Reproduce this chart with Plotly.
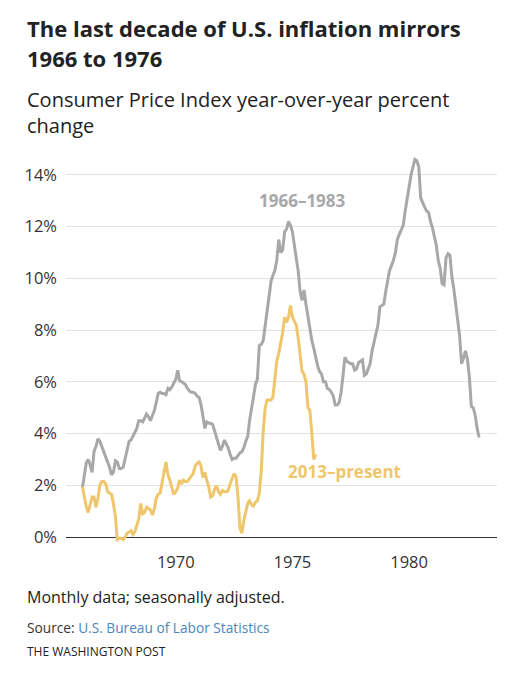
import pandas as pd
import plotly.graph_objects as go

# CPI year-over-year % change, monthly, Jan 1966 - Jan 1983
cpi_1966_1983 = [
    1.9, 2.5, 2.85, 3.0, 2.8, 2.5, 3.3, 3.5, 3.8, 3.7, 3.5, 3.35,        # 1966
    3.1, 2.9, 2.7, 2.4, 2.5, 2.95, 2.9, 2.65, 2.65, 2.7, 3.0, 3.35,     # 1967
    3.7, 3.75, 3.9, 4.0, 4.2, 4.5, 4.5, 4.45, 4.6, 4.75, 4.65, 4.5,     # 1968
    4.7, 4.9, 5.2, 5.55, 5.6, 5.55, 5.55, 5.5, 5.75, 5.7, 5.8, 5.95,    # 1969
    6.1, 6.45, 6.05, 6.0, 5.95, 5.9, 5.75, 5.65, 5.6, 5.6, 5.55, 5.45,  # 1970
    5.4, 5.1, 4.7, 4.2, 4.45, 4.4, 4.4, 4.35, 4.1, 3.85, 3.5, 3.35,     # 1971
    3.5, 3.75, 3.6, 3.45, 3.2, 3.0, 3.05, 3.05, 3.15, 3.25, 3.3, 3.45,  # 1972
    3.7, 3.9, 4.5, 4.9, 5.4, 5.9, 6.1, 7.4, 7.45, 7.6, 8.2, 8.6,        # 1973
    9.4, 9.9, 10.1, 10.3, 10.7, 11.5, 11.0, 11.1, 11.8, 11.9, 12.2, 12.05,  # 1974
    11.8, 11.2, 10.8, 10.3, 9.5, 9.15, 9.55, 9.0, 8.5, 8.1, 7.6, 7.3,   # 1975
    6.9, 6.6, 6.4, 6.3, 6.0, 6.0, 5.75, 5.7, 5.6, 5.45, 5.1, 5.1,       # 1976
    5.2, 5.6, 6.2, 6.95, 6.8, 6.75, 6.7, 6.7, 6.45, 6.5, 6.75, 6.8,     # 1977
    6.85, 6.25, 6.3, 6.5, 6.7, 7.2, 7.5, 7.8, 8.2, 8.9, 8.95, 9.0,      # 1978
    9.5, 9.9, 10.3, 10.5, 10.7, 11.0, 11.5, 11.7, 11.9, 12.05, 12.6, 13.1,  # 1979
    13.6, 14.0, 14.3, 14.6, 14.55, 14.3, 13.1, 12.9, 12.75, 12.6, 12.55, 12.2,  # 1980
    11.95, 11.6, 11.3, 10.7, 10.4, 9.8, 9.75, 10.8, 10.95, 10.9, 10.05, 9.6,    # 1981
    9.0, 8.4, 7.8, 6.7, 6.9, 7.2, 6.9, 6.2, 5.05, 5.0, 4.7, 4.2,        # 1982
    3.85,                                                               # 1983
]

# CPI year-over-year % change, monthly, Jul 2013 - Jul 2023
# (drawn on the same axis, lined up with Jan 1966)
cpi_2013_present = [
    1.95, 1.55, 1.2, 0.95, 1.2, 1.55,                                   # 2013
    1.55, 1.15, 1.5, 2.0, 2.15, 2.15, 2.05, 1.75, 1.7, 1.65, 1.3, 0.8,  # 2014
    -0.1, -0.05, -0.05, -0.1, 0.0, 0.15, 0.2, 0.25, 0.1, 0.2, 0.45, 0.7,  # 2015
    1.3, 0.9, 0.95, 1.15, 1.1, 1.05, 0.85, 1.1, 1.5, 1.65, 1.7, 2.1,    # 2016
    2.5, 2.9, 2.4, 2.2, 1.9, 1.65, 1.75, 1.9, 2.2, 2.05, 2.2, 2.15,     # 2017
    2.15, 2.25, 2.35, 2.45, 2.75, 2.85, 2.9, 2.75, 2.3, 2.5, 2.2, 1.95, # 2018
    1.55, 1.6, 1.85, 2.0, 1.75, 1.65, 1.8, 1.75, 1.75, 1.8, 2.05, 2.3,  # 2019
    2.45, 2.35, 1.55, 0.35, 0.15, 0.65, 1.0, 1.3, 1.4, 1.25, 1.2, 1.35, # 2020
    1.4, 1.7, 2.6, 4.1, 5.0, 5.3, 5.3, 5.3, 5.4, 6.2, 6.8, 7.1,         # 2021
    7.5, 7.9, 8.5, 8.3, 8.5, 8.95, 8.5, 8.3, 8.2, 7.7, 7.1, 6.4,        # 2022
    6.3, 6.0, 5.0, 4.9, 4.0, 3.0, 3.2,                                  # 2023
]

year_ticks = ["1970", "1975", "1980"]
pct_ticks = [0, 2, 4, 6, 8, 10, 12, 14]

gray = "#a8a8a8"
gold = "#efc66c"
font = "Open Sans"

dates_old = pd.date_range("1966-01-01", periods=len(cpi_1966_1983), freq="MS")
dates_new = pd.date_range("1966-01-01", periods=len(cpi_2013_present), freq="MS")

fig = go.Figure()
fig.add_trace(go.Scatter(x=dates_old, y=cpi_1966_1983, mode="lines",
                         line=dict(color=gray, width=3), name="1966–1983"))
fig.add_trace(go.Scatter(x=dates_new, y=cpi_2013_present, mode="lines",
                         line=dict(color=gold, width=3), name="2013–present"))

W, H = 524, 680
L, R, T, B = 66, 27, 149, 130


def px(x):
    return (x - L) / (W - L - R)


def py(y):
    return (H - B - y) / (H - T - B)


def note(text, x, y, size, color="#222", bold=False):
    fig.add_annotation(text=text, xref="paper", yref="paper", x=px(x), y=py(y),
                       xanchor="left", yanchor="middle", showarrow=False,
                       font=dict(family=font, size=size, color=color,
                                 weight="bold" if bold else "normal"))


# headline, subtitle and footer
note("The last decade of U.S. inflation mirrors", 25, 28, 22, "#222", True)
note("1966 to 1976", 25, 58, 22, "#222", True)
note("Consumer Price Index year-over-year percent", 25, 100, 20, "#222")
note("change", 25, 126, 20, "#222")
note("Monthly data; seasonally adjusted.", 25, 597, 16, "#222")
note("Source: <span style='color:#4a87bd'>U.S. Bureau of Labor Statistics</span>",
     25, 627, 13.7, "#333")
note("THE WASHINGTON POST", 25, 651, 12, "#222")

# series labels
fig.add_annotation(text="1966–1983", x="1975-06-15", y=13.0, showarrow=False,
                   font=dict(family=font, size=17, color=gray, weight="bold"))
fig.add_annotation(text="2013–present", x="1977-04-01", y=2.55, showarrow=False,
                   font=dict(family=font, size=17, color=gold, weight="bold"))

fig.update_layout(
    width=W, height=H,
    margin=dict(l=L, r=R, t=T, b=B),
    plot_bgcolor="white", paper_bgcolor="white",
    showlegend=False,
    font=dict(family=font, size=16, color="#333"),
)
fig.update_xaxes(
    range=["1965-04-19", "1983-10-08"],
    tickvals=[y + "-01-01" for y in year_ticks], ticktext=year_ticks,
    showgrid=False, zeroline=False, showline=False, ticks="",
    tickfont=dict(size=16.5, color="#333"),
)
fig.update_yaxes(
    range=[-0.5, 15], tickvals=pct_ticks,
    ticktext=[f"{v}%" for v in pct_ticks],
    showgrid=True, gridcolor="#e3e3e3", gridwidth=1,
    zeroline=True, zerolinecolor="#333", zerolinewidth=1.3,
    showline=False, ticks="", ticklabelstandoff=8,
    tickfont=dict(size=16.5, color="#333"),
)

fig.write_html("out.html", config={"displayModeBar": False},
               post_script="document.body.style.margin = '0px';")
